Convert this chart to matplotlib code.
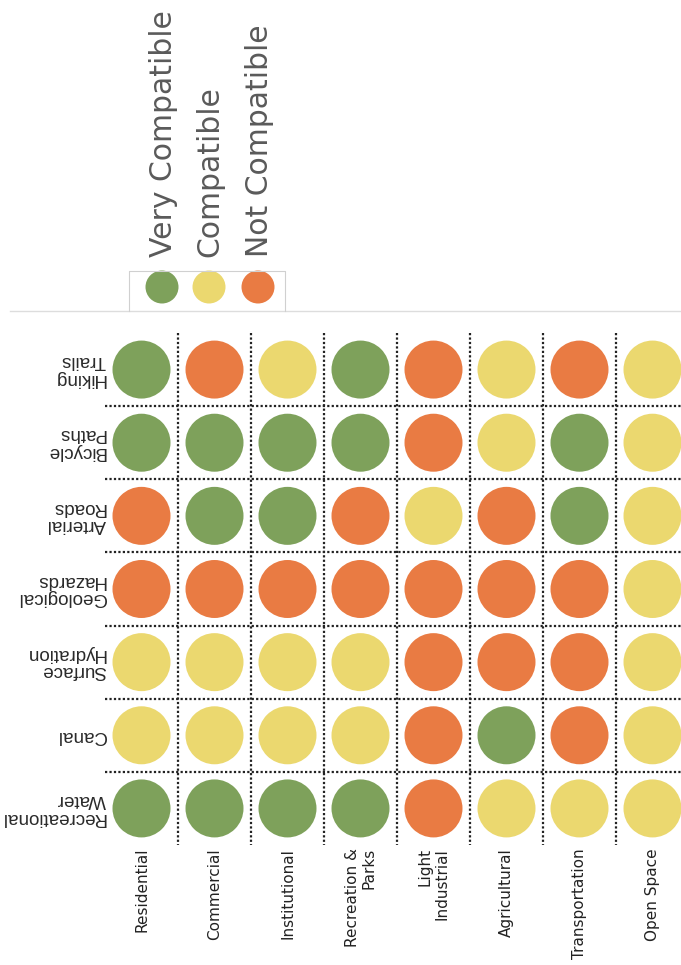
import matplotlib
matplotlib.use("Agg")
import matplotlib.pyplot as plt
from matplotlib.patches import Rectangle

# land uses (columns) and features (rows)
land_uses = ["Residential", "Commercial", "Institutional", "Recreation &\nParks",
             "Light\nIndustrial", "Agricultural", "Transportation", "Open Space"]
features = ["Hiking\nTrails", "Bicycle\nPaths", "Arterial\nRoads", "Geological\nHazards",
            "Surface\nHydration", "Canal", "Recreational\nWater"]

# V = very compatible, C = compatible, N = not compatible
hiking_trails      = ["V", "N", "C", "V", "N", "C", "N", "C"]
bicycle_paths      = ["V", "V", "V", "V", "N", "C", "V", "C"]
arterial_roads     = ["N", "V", "V", "N", "C", "N", "V", "C"]
geological_hazards = ["N", "N", "N", "N", "N", "N", "N", "C"]
surface_hydration  = ["C", "C", "C", "C", "N", "N", "N", "C"]
canal              = ["C", "C", "C", "C", "N", "V", "N", "C"]
recreational_water = ["V", "V", "V", "V", "N", "C", "C", "C"]

ratings = [hiking_trails, bicycle_paths, arterial_roads, geological_hazards,
           surface_hydration, canal, recreational_water]

legend_keys = ["V", "C", "N"]
legend_labels = ["Very Compatible", "Compatible", "Not Compatible"]
colors = {"V": "#7ea15b", "C": "#ebd86f", "N": "#e97b43"}

W, H = 681, 965
fig = plt.figure(figsize=(W / 100, H / 100), dpi=100)

# matrix axes, placed in pixel terms
x0, x1, y0, y1 = 105, 681, 333, 845
ax = fig.add_axes([x0 / W, (H - y1) / H, (x1 - x0) / W, (y1 - y0) / H])
ax.set_xlim(-0.5, -0.5 + (x1 - x0) / 73.0)
ax.set_ylim(len(features) - 0.5, -0.5)
ax.axis("off")

xs, ys, cs = [], [], []
for i, row in enumerate(ratings):
    for j, r in enumerate(row):
        xs.append(j)
        ys.append(i)
        cs.append(colors[r])
d_pt = 58 * 0.72
ax.scatter(xs, ys, s=d_pt ** 2, c=cs, linewidths=0, zorder=3, clip_on=False)

# dotted separators
for j in range(len(land_uses) - 1):
    ax.vlines(j + 0.5, -0.5, len(features) - 0.5, colors="#222222",
              linestyles=(0, (1, 1)), linewidth=1.6, clip_on=False)
for i in range(len(features) - 1):
    ax.hlines(i + 0.5, -0.5, ax.get_xlim()[1], colors="#222222",
              linestyles=(0, (1, 1)), linewidth=1.6, clip_on=False)

for i, f in enumerate(features):
    ax.text(-0.49, i, f, rotation=180, ha="right", va="center",
            multialignment="left", fontsize=13.5, family="Liberation Sans",
            color="#2a2a2a", linespacing=1.05)
for j, lu in enumerate(land_uses):
    ax.text(j, len(features) - 0.5 + 0.04, lu, rotation=90, ha="center", va="top",
            multialignment="right", fontsize=11, family="DejaVu Sans",
            color="#222222", linespacing=1.15)

# legend area
lax = fig.add_axes([0, 0, 1, 1], facecolor="none")
lax.set_xlim(0, W)
lax.set_ylim(H, 0)
lax.axis("off")
lax.plot([10, W], [311, 311], color="#dddddd", lw=1)
lax.add_patch(Rectangle((129, 271), 156, 41, facecolor="white", edgecolor="none"))
lax.plot([129, 129, 285, 285], [311, 271, 271, 311], color="#d0d0d0", lw=0.8)
lx = [162, 209, 258]
lax.scatter(lx, [287] * 3, s=(33 * 0.72) ** 2, c=[colors[k] for k in legend_keys],
            linewidths=0)
for x, lab in zip(lx, legend_labels):
    lax.text(x + 1, 257, lab, rotation=90, ha="center", va="bottom",
             fontsize=21.5, color="#5a5a5a", family="DejaVu Sans")

fig.savefig("out.png", dpi=100)
